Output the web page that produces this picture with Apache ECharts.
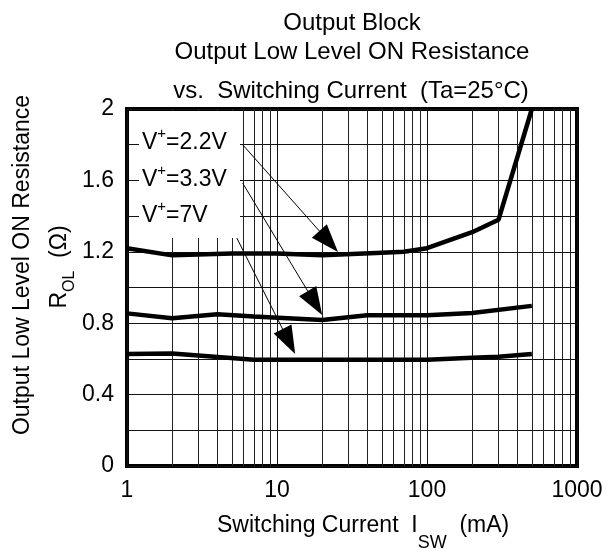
<!DOCTYPE html>
<html>
<head>
<meta charset="utf-8">
<script src="https://cdn.jsdelivr.net/npm/echarts@6/dist/echarts.min.js"></script>
<style>
html,body{margin:0;padding:0;background:#fff;}
#chart{width:614px;height:551px;}
</style>
</head>
<body>
<div id="chart"></div>
<script>
// ---- data ----
const xTickLabels = ['1', '10', '100', '1000'];
const yTickLabels = ['0', '0.4', '0.8', '1.2', '1.6', '2'];
const minorX = [2,3,4,5,6,7,8,9,20,30,40,50,60,70,80,90,200,300,400,500,600,700,800,900];

const curr22 = [1, 2, 5, 10, 20, 50, 70, 100, 200, 300, 500];
const rol22  = [1.22, 1.18, 1.19, 1.19, 1.18, 1.195, 1.20, 1.22, 1.31, 1.38, 2.0];

const curr33 = [1, 2, 4, 7, 20, 40, 100, 200, 500];
const rol33  = [0.855, 0.828, 0.85, 0.838, 0.818, 0.845, 0.845, 0.857, 0.897];

const curr7 = [1, 2, 7, 100, 200, 300, 500];
const rol7  = [0.628, 0.63, 0.595, 0.595, 0.607, 0.612, 0.628];

// arrow annotations: [startX, startY, headCentreX, headCentreY] in data units
const arrow22 = [5.9, 1.80, 22.1, 1.258];
const arrow33 = [5.9, 1.585, 17.9, 0.913];
const arrow7  = [5.4, 1.277, 12.0, 0.697];

const labels = ['2.2V', '3.3V', '7V'];

function pairs(xs, ys) { return xs.map((x, i) => [x, ys[i]]); }
function arrowData(a) { return [{coord: [a[0], a[1]]}, {coord: [a[2], a[3]]}]; }

const FONT = '"Liberation Sans", Arial, sans-serif';
const chart = echarts.init(document.getElementById('chart'), null, {renderer: 'canvas'});

const curveStyle = {color: '#000', width: 4.5};

function vLabel(t, y) {
  return {type: 'text', z: 11, x: 142, y: y,
    style: {text: '{a|V}{p|+}{a|=' + t + '}', textVerticalAlign: 'middle',
      rich: {a: {fontSize: 23, fontFamily: FONT, fill: '#000', lineHeight: 28, verticalAlign: 'bottom'},
             p: {fontSize: 15, fontFamily: FONT, fill: '#000', lineHeight: 15, verticalAlign: 'top'}}}};
}

const option = {
  backgroundColor: '#fff',
  animation: false,
  textStyle: {fontFamily: FONT, color: '#000'},
  title: [
    {text: 'Output Block', left: 347, top: 4, textAlign: 'center',
     textStyle: {fontFamily: FONT, fontSize: 24, fontWeight: 'normal', color: '#000', lineHeight: 28}},
    {text: 'Output Low Level ON Resistance', left: 347, top: 33, textAlign: 'center',
     textStyle: {fontFamily: FONT, fontSize: 24, fontWeight: 'normal', color: '#000', lineHeight: 28}},
    {text: 'vs.  Switching Current  (Ta=25°C)', left: 346, top: 72, textAlign: 'center',
     textStyle: {fontFamily: FONT, fontSize: 24, fontWeight: 'normal', color: '#000', lineHeight: 28}}
  ],
  grid: {left: 127, right: 37, top: 109, bottom: 85, show: true,
         borderColor: '#000', borderWidth: 4, backgroundColor: 'transparent'},
  xAxis: {
    type: 'log', logBase: 10, min: 1, max: 1000,
    axisLine: {show: false}, axisTick: {show: false},
    axisLabel: {fontSize: 23, color: '#000', fontFamily: FONT, margin: 13,
                formatter: v => xTickLabels[Math.round(Math.log10(v))]},
    splitLine: {show: true, lineStyle: {color: '#111', width: 1}}
  },
  yAxis: {
    type: 'value', min: 0, max: 2, interval: 0.4,
    axisLine: {show: false}, axisTick: {show: false},
    axisLabel: {fontSize: 23, color: '#000', fontFamily: FONT, margin: 13,
                formatter: v => yTickLabels[Math.round(v / 0.4)]},
    splitLine: {show: true, lineStyle: {color: '#111', width: 1}},
    minorTick: {show: false, splitNumber: 2},
    minorSplitLine: {show: true, lineStyle: {color: '#111', width: 1}}
  },
  graphic: {
    z: 10,
    elements: [
      {type: 'rect', z: 10, shape: {x: 139, y: 111, width: 101, height: 127},
       style: {fill: '#fff'}},
      vLabel(labels[0], 140),
      vLabel(labels[1], 177),
      vLabel(labels[2], 213),
      {type: 'text', z: 11, x: 23, y: 265, rotation: Math.PI / 2,
       style: {text: 'Output Low Level ON Resistance', textAlign: 'center', textVerticalAlign: 'middle',
               fontSize: 23, fontFamily: FONT, fill: '#000'}},
      {type: 'text', z: 11, x: 61, y: 267, rotation: Math.PI / 2,
       style: {text: '{a|R}{s|OL}{a|  (Ω)}', textAlign: 'center', textVerticalAlign: 'middle',
               rich: {a: {fontSize: 23, fontFamily: FONT, fill: '#000', lineHeight: 26, verticalAlign: 'top'},
                      s: {fontSize: 16, fontFamily: FONT, fill: '#000', lineHeight: 16, verticalAlign: 'top', padding: [14, 0, 0, 0]}}}},
      {type: 'text', z: 11, x: 217, y: 514,
       style: {text: '{a|Switching Current  I}{s|SW}{a|  (mA)}',
               rich: {a: {fontSize: 23, fontFamily: FONT, fill: '#000', lineHeight: 28, verticalAlign: 'top'},
                      s: {fontSize: 18, fontFamily: FONT, fill: '#000', lineHeight: 18, verticalAlign: 'top', padding: [20, 0, 0, 0]}}}}
    ]
  },
  series: [
    {type: 'line', z: 1, data: [], silent: true,
     markLine: {z: 1, silent: true, symbol: ['none', 'none'], label: {show: false},
                lineStyle: {color: '#222', width: 1, type: 'solid'},
                data: minorX.map(v => ({xAxis: v}))}},
    {type: 'line', name: labels[0], z: 3, data: pairs(curr22, rol22), symbol: 'none',
     lineStyle: curveStyle, clip: false},
    {type: 'line', name: labels[1], z: 3, data: pairs(curr33, rol33), symbol: 'none',
     lineStyle: curveStyle},
    {type: 'line', name: labels[2], z: 3, data: pairs(curr7, rol7), symbol: 'none',
     lineStyle: curveStyle},
    {type: 'line', z: 20, data: [], silent: true,
     markLine: {z: 20, silent: true, symbol: ['none', 'triangle'], symbolSize: [20, 28], label: {show: false},
                lineStyle: {color: '#000', width: 1, type: 'solid'},
                itemStyle: {color: '#000'},
                data: [arrowData(arrow22), arrowData(arrow33), arrowData(arrow7)]}}
  ]
};
chart.setOption(option);
</script>
</body>
</html>
